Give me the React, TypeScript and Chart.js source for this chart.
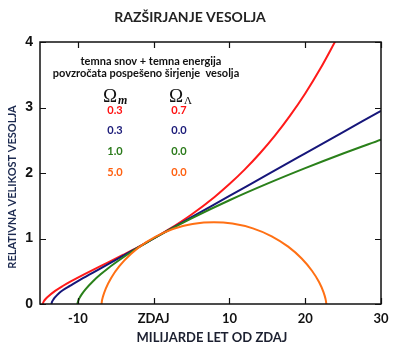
import { useEffect, useRef } from "react";
import { Chart, registerables } from "chart.js";

Chart.register(...registerables);

// ---- data ----
const xTickValues = [-10, 0, 10, 20, 30];
const xTickLabels = ["-10", "ZDAJ", "10", "20", "30"];
const yTickValues = [0, 1, 2, 3, 4];

// Omega_m = 0.3, Omega_L = 0.7 (red)
const redTime = [-14.65, -14.5, -14.2, -14, -13, -12, -11, -10, -8, -6, -4, -2, 0, 2, 5, 8, 10, 12, 14, 16, 18, 20, 22, 24];
const redSize = [0, 0.04, 0.084, 0.107, 0.2, 0.275, 0.342, 0.404, 0.522, 0.636, 0.753, 0.873, 1.0, 1.138, 1.367, 1.631, 1.831, 2.052, 2.298, 2.571, 2.876, 3.215, 3.595, 4.018];

// Omega_m = 0.3, Omega_L = 0.0 (blue)
const blueTime = [-13.5, -13.4, -13.2, -13, -12.5, -12, -11, -10, -9, -8, -6, -4, -2, 0, 2, 5, 10, 15, 20, 25, 30];
const blueSize = [0, 0.035, 0.075, 0.105, 0.165, 0.21, 0.28, 0.35, 0.415, 0.48, 0.61, 0.74, 0.87, 1.0, 1.13, 1.325, 1.65, 1.975, 2.3, 2.625, 2.95];

// Omega_m = 1.0, Omega_L = 0.0 (green)
const greenTime = [-10.07, -9.95, -9.8, -9.5, -9, -8, -7, -6, -4, -3, -2, -1, 0, 2, 5, 10, 15, 20, 25, 30];
const greenSize = [0, 0.052, 0.09, 0.147, 0.224, 0.348, 0.453, 0.547, 0.713, 0.79, 0.863, 0.933, 1.0, 1.128, 1.308, 1.584, 1.837, 2.074, 2.298, 2.51];

// Omega_m = 5.0, Omega_L = 0.0 (orange)
const orangeTime = [-6.87, -6.85, -6.7, -6.32, -5.61, -4.5, -2.97, -1.03, 1.27, 3.85, 6.62, 7.96, 10.38, 13.09, 15.58, 17.75, 19.53, 20.89, 21.84, 22.41, 22.69, 22.76, 22.78];
const orangeSize = [0, 0.028, 0.109, 0.2365, 0.3985, 0.581, 0.767, 0.9405, 1.086, 1.19, 1.244, 1.25, 1.229, 1.155, 1.034, 0.876, 0.695, 0.508, 0.332, 0.182, 0.072, 0.025, 0];

const legendRows = [
  { m: "0.3", l: "0.7", color: "#ff1010" },
  { m: "0.3", l: "0.0", color: "#1a1a78" },
  { m: "1.0", l: "0.0", color: "#2a7a1a" },
  { m: "5.0", l: "0.0", color: "#ff6010" },
];

const lineColors = ["#ff1a1a", "#16167a", "#2a801a", "#ff7014"];

const toPoints = (xs: number[], ys: number[]) => xs.map((x, i) => ({ x, y: ys[i] }));

const decorPlugin = {
  id: "decor",
  afterDatasetsDraw(chart: any) {
    const { ctx, chartArea, scales } = chart;
    const { left, right, top, bottom } = chartArea;
    const xs = scales.x;
    const ys = scales.y;
    ctx.save();
    // frame
    ctx.strokeStyle = "#111";
    ctx.lineWidth = 1.5;
    ctx.strokeRect(left, top, right - left, bottom - top);
    // inside ticks
    ctx.lineWidth = 1.2;
    ctx.beginPath();
    xTickValues.forEach((v) => {
      const px = Math.round(xs.getPixelForValue(v)) + 0.5;
      ctx.moveTo(px, bottom);
      ctx.lineTo(px, bottom - 6);
      ctx.moveTo(px, top);
      ctx.lineTo(px, top + 6);
    });
    yTickValues.forEach((v) => {
      const py = Math.round(ys.getPixelForValue(v)) + 0.5;
      ctx.moveTo(left, py);
      ctx.lineTo(left + 6, py);
      ctx.moveTo(right, py);
      ctx.lineTo(right - 6, py);
    });
    ctx.stroke();
    ctx.restore();
  },
  afterDraw(chart: any) {
    const { ctx } = chart;
    ctx.save();
    ctx.textAlign = "center";
    ctx.textBaseline = "middle";
    // title
    ctx.fillStyle = "#222";
    ctx.font = "bold 14px Lato";
    ctx.fillText("RAZŠIRJANJE VESOLJA", 190, 17);
    // x title
    ctx.font = "bold 13px Lato";
    ctx.fillStyle = "#1c2030";
    ctx.fillText("MILIJARDE LET OD ZDAJ", 212, 338);
    // y title
    ctx.save();
    ctx.translate(12, 187);
    ctx.rotate(-Math.PI / 2);
    ctx.font = "bold 11px Lato";
    ctx.fillStyle = "#1c2a50";
    ctx.fillText("RELATIVNA VELIKOST VESOLJA", 0, 0);
    ctx.restore();
    // annotation
    ctx.fillStyle = "#111";
    ctx.font = "bold 11px Lato";
    ctx.fillText("temna snov + temna energija", 151, 61);
    ctx.fillText("povzročata pospešeno širjenje  vesolja", 146, 73);
    // Omega headers
    ctx.textAlign = "left";
    ctx.font = "19px 'Liberation Serif'";
    ctx.fillText("Ω", 103, 97);
    ctx.fillText("Ω", 169, 97);
    ctx.font = "italic bold 12px 'Liberation Serif'";
    ctx.fillText("m", 118, 101);
    ctx.font = "11px 'Liberation Serif'";
    ctx.fillText("Λ", 184, 101);
    // values
    ctx.textAlign = "center";
    ctx.font = "bold 11px Lato";
    legendRows.forEach((r, i) => {
      const y = 110 + i * 20.7;
      ctx.fillStyle = r.color;
      ctx.fillText(r.m, 115, y);
      ctx.fillText(r.l, 179, y);
    });
    ctx.restore();
  },
};

export default function App() {
  const ref = useRef<HTMLCanvasElement | null>(null);
  useEffect(() => {
    document.body.style.margin = "0";
    const canvas = ref.current!;
    const mk = (xs: number[], ys: number[], c: string) => ({
      data: toPoints(xs, ys),
      borderColor: c,
      borderWidth: 2,
      pointRadius: 0,
      fill: false,
      cubicInterpolationMode: "monotone" as const,
    });
    const chart = new Chart(canvas, {
      type: "line",
      data: {
        datasets: [
          mk(orangeTime, orangeSize, lineColors[3]),
          mk(greenTime, greenSize, lineColors[2]),
          mk(blueTime, blueSize, lineColors[1]),
          mk(redTime, redSize, lineColors[0]),
        ],
      },
      options: {
        animation: false,
        responsive: false,
        layout: { padding: { top: 42, right: 19, left: 0, bottom: 0 } },
        plugins: { legend: { display: false }, tooltip: { enabled: false }, title: { display: false } },
        scales: {
          x: {
            type: "linear",
            min: -15,
            max: 30,
            grid: { display: false, drawTicks: false },
            border: { display: false },
            afterBuildTicks: (s: any) => {
              s.ticks = xTickValues.map((v) => ({ value: v }));
            },
            afterFit: (s: any) => {
              s.height = 46;
            },
            ticks: {
              padding: 7,
              color: "#111",
              font: { family: "Lato", weight: "bold", size: 13 },
              maxRotation: 0,
              autoSkip: false,
              callback: (v: any) => {
                const i = xTickValues.indexOf(Number(v));
                return i >= 0 ? xTickLabels[i] : "";
              },
            },
          },
          y: {
            type: "linear",
            min: 0,
            max: 4,
            grid: { display: false, drawTicks: false },
            border: { display: false },
            afterBuildTicks: (s: any) => {
              s.ticks = yTickValues.map((v) => ({ value: v }));
            },
            afterFit: (s: any) => {
              s.width = 40;
            },
            ticks: {
              padding: 7,
              color: "#111",
              font: { family: "Liberation Sans", weight: "bold", size: 14 },
            },
          },
        },
      },
      plugins: [decorPlugin],
    });
    return () => chart.destroy();
  }, []);
  return (
    <div style={{ width: 400, height: 350, background: "#fff" }}>
      <canvas ref={ref} width={400} height={350} style={{ display: "block" }} />
    </div>
  );
}
